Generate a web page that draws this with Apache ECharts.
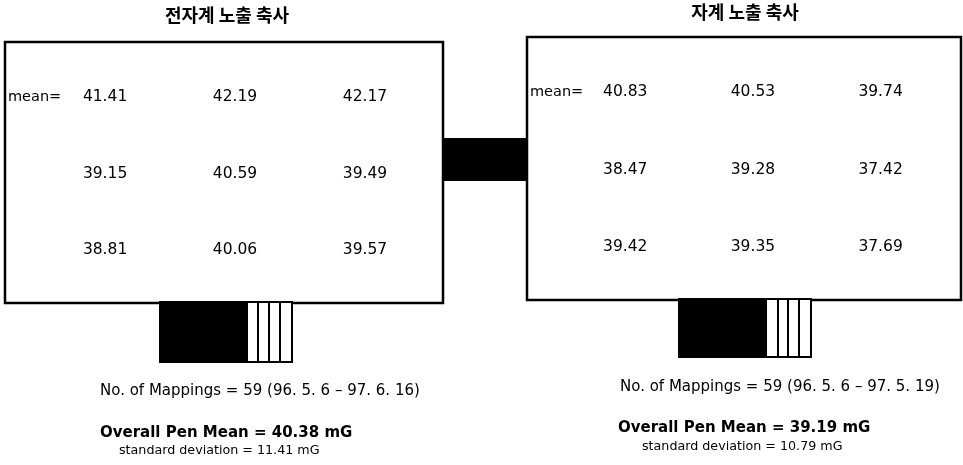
<!DOCTYPE html>
<html><head><meta charset="utf-8">
<script src="https://cdn.jsdelivr.net/npm/echarts@6/dist/echarts.min.js"></script>
<style>html,body{margin:0;padding:0;background:#fff}#c{width:963px;height:465px}</style>
</head><body><div id="c"></div>
<script>
const colIndex = [1, 2, 3];
const rowIndex = [1, 2, 3];
const rowLabels = ["mean=", "", ""];
const leftTitle = "전자계 노출 축사";
const rightTitle = "자계 노출 축사";
const leftValues = [[41.41, 42.19, 42.17], [39.15, 40.59, 39.49], [38.81, 40.06, 39.57]];
const rightValues = [[40.83, 40.53, 39.74], [38.47, 39.28, 37.42], [39.42, 39.35, 37.69]];
const leftNotes = ["No. of Mappings = 59 (96. 5. 6 \u2013 97. 6. 16)", "Overall Pen Mean = 40.38 mG", "standard deviation = 11.41 mG"];
const rightNotes = ["No. of Mappings = 59 (96. 5. 6 \u2013 97. 5. 19)", "Overall Pen Mean = 39.19 mG", "standard deviation = 10.79 mG"];

const FONT = "'DejaVu Sans', sans-serif";
const KFONT = "'Noto Sans CJK KR', sans-serif";

function cells(vals) {
  const out = [];
  rowIndex.forEach((r, i) => colIndex.forEach((c, j) => out.push([c, r, vals[i][j]])));
  return out;
}
const xr = [{min: 0.23, max: 3.6}, {min: 0.23, max: 3.63}];
const yr = [{min: 0.28, max: 3.69}, {min: 0.29, max: 3.68}];

const chart = echarts.init(document.getElementById('c'), null, {renderer: 'canvas'});
const gridsDef = [
  {left: 5, top: 42, width: 438, height: 261},
  {left: 527, top: 37, width: 434, height: 263}
];
const labelBase = {show: true, color: '#000', opacity: 1, textBorderWidth: 0, fontFamily: FONT};
const option = {
  backgroundColor: '#fff',
  animation: false,
  title: [
    {text: leftTitle, left: 222, top: 1, textAlign: 'center', textStyle: {fontFamily: KFONT, fontSize: 18, fontWeight: 'bold', color: '#000'}},
    {text: rightTitle, left: 740, top: -2, textAlign: 'center', textStyle: {fontFamily: KFONT, fontSize: 18, fontWeight: 'bold', color: '#000'}}
  ],
  grid: gridsDef.map(g => Object.assign({show: true, borderColor: '#000', borderWidth: 2.5, backgroundColor: '#fff', z: 1}, g)),
  xAxis: [0, 1].map(i => ({type: 'value', gridIndex: i, min: xr[i].min, max: xr[i].max, show: false, splitLine: {show: false}})),
  yAxis: [0, 1].map(i => ({type: 'value', gridIndex: i, inverse: true, min: yr[i].min, max: yr[i].max, show: false, splitLine: {show: false}})),
  series: [
    ...[leftValues, rightValues].map((vals, i) => ({
      type: 'scatter', xAxisIndex: i, yAxisIndex: i, symbolSize: 0, silent: true,
      data: cells(vals),
      label: Object.assign({}, labelBase, {position: [0, 0], align: 'center', verticalAlign: 'middle', formatter: p => p.value[2].toFixed(2), fontSize: 15.5})
    })),
    ...[0, 1].map(i => ({
      type: 'scatter', xAxisIndex: i, yAxisIndex: i, symbolSize: 0, silent: true,
      data: rowIndex.map((r, k) => ({value: [xr[i].min, r], name: rowLabels[k]})),
      label: Object.assign({}, labelBase, {position: [3, 0], align: 'left', verticalAlign: 'middle', formatter: p => p.name, fontSize: 14.5})
    }))
  ],
  graphic: [
    // connector between the two boxes
    {type: 'rect', shape: {x: 443, y: 138, width: 84, height: 43}, style: {fill: '#000'}, z: 10},
    // left block
    {type: 'rect', shape: {x: 160, y: 302, width: 132, height: 60}, style: {fill: '#fff', stroke: '#000', lineWidth: 2}, z: 10},
    {type: 'rect', shape: {x: 160, y: 302, width: 88, height: 60}, style: {fill: '#000'}, z: 11},
    ...[258, 269, 280].map(x => ({type: 'line', shape: {x1: x, y1: 302, x2: x, y2: 362}, style: {stroke: '#000', lineWidth: 2}, z: 11})),
    // right block
    {type: 'rect', shape: {x: 679, y: 299, width: 132, height: 58}, style: {fill: '#fff', stroke: '#000', lineWidth: 2}, z: 10},
    {type: 'rect', shape: {x: 679, y: 299, width: 88, height: 58}, style: {fill: '#000'}, z: 11},
    ...[778, 788, 799].map(x => ({type: 'line', shape: {x1: x, y1: 299, x2: x, y2: 357}, style: {stroke: '#000', lineWidth: 2}, z: 11})),
    // notes
    {type: 'text', left: 100, top: 384, style: {text: leftNotes[0], font: '15px ' + FONT, fill: '#000'}},
    {type: 'text', left: 100, top: 426, style: {text: leftNotes[1], font: 'bold 15px ' + FONT, fill: '#000'}},
    {type: 'text', left: 119, top: 444, style: {text: leftNotes[2], font: '12.7px ' + FONT, fill: '#000'}},
    {type: 'text', left: 620, top: 380, style: {text: rightNotes[0], font: '15px ' + FONT, fill: '#000'}},
    {type: 'text', left: 618, top: 421, style: {text: rightNotes[1], font: 'bold 15px ' + FONT, fill: '#000'}},
    {type: 'text', left: 642, top: 440, style: {text: rightNotes[2], font: '12.7px ' + FONT, fill: '#000'}}
  ]
};
chart.setOption(option);
</script></body></html>
